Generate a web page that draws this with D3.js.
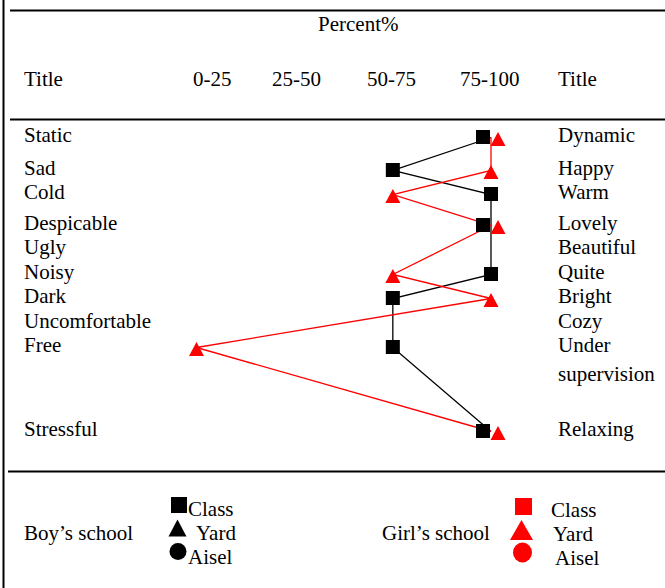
<!DOCTYPE html>
<html><head><meta charset="utf-8">
<script src="https://cdn.jsdelivr.net/npm/d3@7"></script>
<style>
html,body{margin:0;padding:0;background:#fff;}
svg{display:block;}
text{font-family:"Liberation Serif","Times New Roman",serif;font-size:21px;fill:#000;}
</style></head>
<body>
<svg id="chart" width="665" height="588"></svg>
<script>
// ---- data ----
const leftTitles  = ["Static","Sad","Cold","Despicable","Ugly","Noisy","Dark","Uncomfortable","Free","Stressful"];
const rightTitles = ["Dynamic","Happy","Warm","Lovely","Beautiful","Quite","Bright","Cozy","Under\nsupervision","Relaxing"];
const percentBins = ["0-25","25-50","50-75","75-100"];
// Boy's school – Class (percent bin per row)
const boyClass  = ["75-100","50-75","75-100","75-100",null,"75-100","50-75",null,"50-75","75-100"];
// Girl's school – Yard (percent bin per row)
const girlYard  = ["75-100","75-100","50-75","75-100",null,"50-75","75-100",null,"0-25","75-100"];
const legendItems = ["Class","Yard","Aisel"];

// ---- layout ----
const svg = d3.select("#chart");
const W = 665, H = 588;
const x = d3.scalePoint().domain(percentBins).range([196.5,491]);
// row baselines (piecewise scale over row index)
const rowIdx = d3.range(leftTitles.length);
const yBase = d3.scaleLinear().domain(rowIdx).range([142,175,199,230,254,279,303,328,352,436]);
const yMark = i => yBase(i) - 4.5;

// frame lines
svg.append("line").attr("x1",3.5).attr("x2",3.5).attr("y1",0).attr("y2",H).attr("stroke","#000").attr("stroke-width",2);
[[10.5,10],[119.5,10],[471.5,8]].forEach(([y,x0])=>{
  svg.append("line").attr("x1",x0).attr("x2",W).attr("y1",y).attr("y2",y).attr("stroke","#000").attr("stroke-width",2.2);
});

// header
svg.append("text").attr("x",318).attr("y",31).text("Percent%");
svg.append("text").attr("x",24).attr("y",86).text("Title");
svg.append("text").attr("x",558).attr("y",86).text("Title");
const headerX = [193,272,367,460];
svg.selectAll("text.bin").data(percentBins).enter().append("text").attr("class","bin")
  .attr("x",(d,i)=>headerX[i]).attr("y",86).text(d=>d);

// row labels
svg.selectAll("text.lt").data(leftTitles).enter().append("text").attr("class","lt")
  .attr("x",24).attr("y",(d,i)=>yBase(i)).text(d=>d);
rightTitles.forEach((t,i)=>{
  t.split("\n").forEach((p,j)=>{
    svg.append("text").attr("x",558).attr("y",yBase(i)+j*29).text(p);
  });
});

// series
const boyPts  = boyClass.map((v,i)=>({v,i,shared:v!==null && v===girlYard[i]})).filter(d=>d.v!==null);
const girlPts = girlYard.map((v,i)=>({v,i,shared:v!==null && v===boyClass[i]})).filter(d=>d.v!==null);
const line = d3.line().x(d=>x(d.v)).y(d=>yMark(d.i));

svg.append("path").datum(boyPts).attr("d",line).attr("fill","none").attr("stroke","#000").attr("stroke-width",1.3);
svg.append("path").datum(girlPts).attr("d",line).attr("fill","none").attr("stroke","#ff0000").attr("stroke-width",1.3);

const triPath = (w,h)=>`M0,${-h/2}L${w/2},${h/2}L${-w/2},${h/2}Z`;

// markers (nudged apart when both schools fall in the same bin)
svg.selectAll("rect.bc").data(boyPts).enter().append("rect").attr("class","bc")
  .attr("x",d=>x(d.v)-7-(d.shared?8:0)).attr("y",d=>yMark(d.i)-7.5)
  .attr("width",14).attr("height",14).attr("fill","#000");
svg.selectAll("path.gy").data(girlPts).enter().append("path").attr("class","gy")
  .attr("transform",d=>`translate(${x(d.v)+(d.shared?7:0)},${yMark(d.i)+1.5})`)
  .attr("d",triPath(15,14)).attr("fill","#ff0000");

// legend
svg.append("text").attr("x",24).attr("y",540).text("Boy\u2019s school");
svg.append("text").attr("x",382).attr("y",540).text("Girl\u2019s school");
const legRows = [516,540,564];
// boy
svg.append("rect").attr("x",171).attr("y",497).attr("width",16).attr("height",16).attr("fill","#000");
svg.append("path").attr("transform","translate(177.5,528)").attr("d",triPath(18,17)).attr("fill","#000");
svg.append("ellipse").attr("cx",178).attr("cy",551.5).attr("rx",8.5).attr("ry",8.5).attr("fill","#000");
const boyTextX = [188,196,188];
legendItems.forEach((t,i)=>svg.append("text").attr("x",boyTextX[i]).attr("y",legRows[i]).text(t));
// girl
svg.append("rect").attr("x",515).attr("y",498).attr("width",17).attr("height",17).attr("fill","#ff0000");
svg.append("path").attr("transform","translate(521.5,530)").attr("d",triPath(23,20)).attr("fill","#ff0000");
svg.append("ellipse").attr("cx",522.5).attr("cy",552.5).attr("rx",9.5).attr("ry",10).attr("fill","#ff0000");
const girlTextX = [551,553,555];
legendItems.forEach((t,i)=>svg.append("text").attr("x",girlTextX[i]).attr("y",legRows[i]+1).text(t));
</script>
</body></html>
